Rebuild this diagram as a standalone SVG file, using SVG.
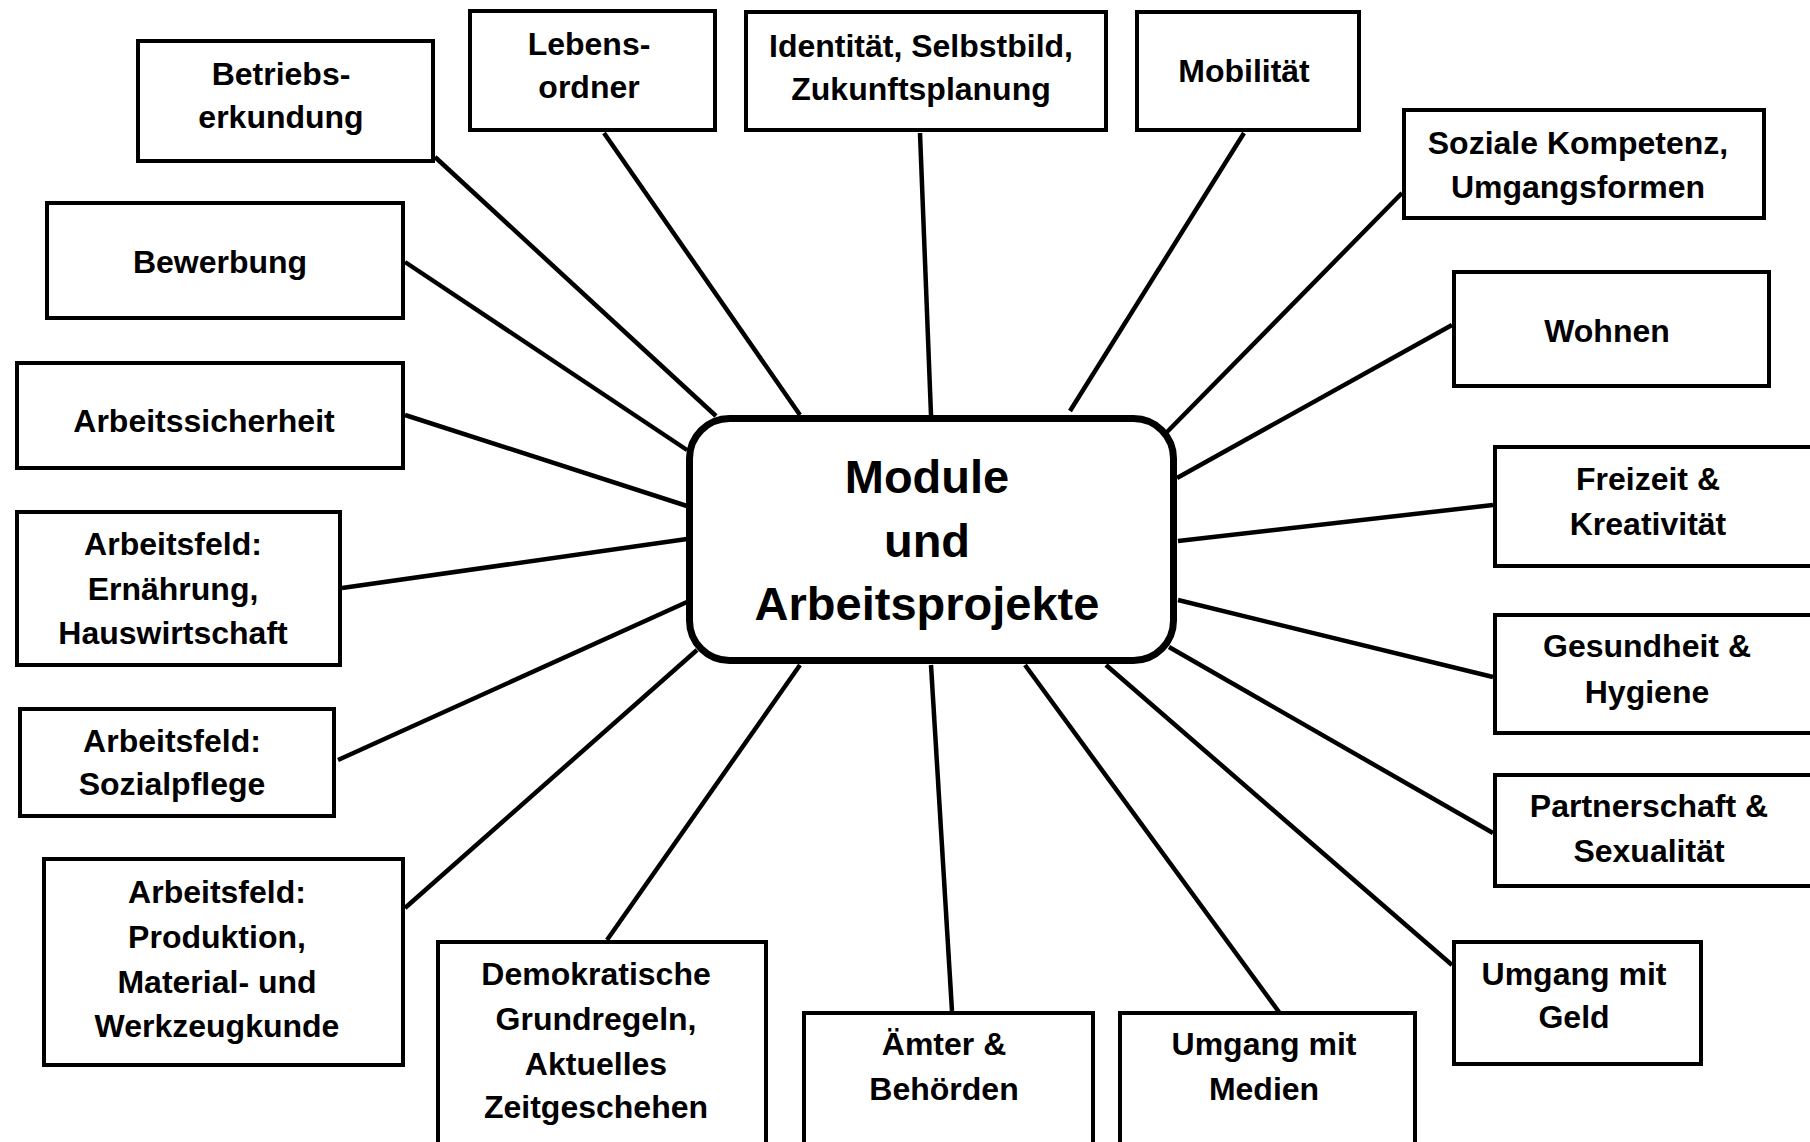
<svg xmlns="http://www.w3.org/2000/svg" width="1810" height="1142" viewBox="0 0 1810 1142">
<style>
.box{fill:#fff;stroke:#000;stroke-width:4}
.center{fill:#fff;stroke:#000;stroke-width:7}
.t{font-family:"Liberation Sans",Arial,sans-serif;font-weight:bold;font-size:32px;fill:#000;text-anchor:middle}
.tc{font-family:"Liberation Sans",Arial,sans-serif;font-weight:bold;font-size:47px;fill:#000;text-anchor:middle}
.c line{stroke:#000;stroke-width:4.5}
</style>
<rect width="1810" height="1142" fill="#fff"/>
<g id="connectors" class="c">
<line x1="435" y1="157" x2="716" y2="416"/>
<line x1="604" y1="133" x2="800" y2="415"/>
<line x1="920" y1="133" x2="931" y2="415"/>
<line x1="1244" y1="133" x2="1070" y2="411"/>
<line x1="1402" y1="193" x2="1167" y2="432"/>
<line x1="1452" y1="325" x2="1177" y2="478"/>
<line x1="1493" y1="505" x2="1178" y2="541"/>
<line x1="1493" y1="677" x2="1178" y2="600"/>
<line x1="1493" y1="833" x2="1169" y2="647"/>
<line x1="1452" y1="965" x2="1106" y2="665"/>
<line x1="1279" y1="1012" x2="1025" y2="665"/>
<line x1="952" y1="1011" x2="931" y2="665"/>
<line x1="607" y1="940" x2="800" y2="665"/>
<line x1="405" y1="908" x2="697" y2="650"/>
<line x1="338" y1="760" x2="687" y2="602"/>
<line x1="342" y1="588" x2="687" y2="539"/>
<line x1="405" y1="415" x2="687" y2="506"/>
<line x1="405" y1="262" x2="687" y2="450"/>
</g>
<g id="center">
<rect class="center" x="689.5" y="418.5" width="484" height="242" rx="40"/>
<text class="tc" x="927" y="493">Module</text>
<text class="tc" x="927" y="557">und</text>
<text class="tc" x="927" y="620">Arbeitsprojekte</text>
</g>
<g id="betriebserkundung">
<rect class="box" x="138" y="41" width="295" height="120"/>
<text class="t" x="281" y="85">Betriebs-</text>
<text class="t" x="281" y="128">erkundung</text>
</g>
<g id="lebensordner">
<rect class="box" x="470" y="11" width="245" height="119"/>
<text class="t" x="589" y="55">Lebens-</text>
<text class="t" x="589" y="98">ordner</text>
</g>
<g id="identitaet">
<rect class="box" x="746" y="12" width="360" height="118"/>
<text class="t" x="921" y="57">Identität, Selbstbild,</text>
<text class="t" x="921" y="100">Zukunftsplanung</text>
</g>
<g id="mobilitaet">
<rect class="box" x="1137" y="12" width="222" height="118"/>
<text class="t" x="1244" y="82">Mobilität</text>
</g>
<g id="soziale-kompetenz">
<rect class="box" x="1404" y="110" width="360" height="108"/>
<text class="t" x="1578" y="154">Soziale Kompetenz,</text>
<text class="t" x="1578" y="198">Umgangsformen</text>
</g>
<g id="wohnen">
<rect class="box" x="1454" y="272" width="315" height="114"/>
<text class="t" x="1607" y="342">Wohnen</text>
</g>
<g id="freizeit">
<rect class="box" x="1495" y="447" width="330" height="119"/>
<text class="t" x="1648" y="490">Freizeit &amp;</text>
<text class="t" x="1648" y="535">Kreativität</text>
</g>
<g id="gesundheit">
<rect class="box" x="1495" y="615" width="330" height="118"/>
<text class="t" x="1647" y="657">Gesundheit &amp;</text>
<text class="t" x="1647" y="703">Hygiene</text>
</g>
<g id="partnerschaft">
<rect class="box" x="1495" y="775" width="330" height="111"/>
<text class="t" x="1649" y="817">Partnerschaft &amp;</text>
<text class="t" x="1649" y="862">Sexualität</text>
</g>
<g id="geld">
<rect class="box" x="1454" y="942" width="247" height="122"/>
<text class="t" x="1574" y="985">Umgang mit</text>
<text class="t" x="1574" y="1028">Geld</text>
</g>
<g id="medien">
<rect class="box" x="1120" y="1013" width="295" height="140"/>
<text class="t" x="1264" y="1055">Umgang mit</text>
<text class="t" x="1264" y="1100">Medien</text>
</g>
<g id="aemter">
<rect class="box" x="804" y="1013" width="289" height="140"/>
<text class="t" x="944" y="1055">Ämter &amp;</text>
<text class="t" x="944" y="1100">Behörden</text>
</g>
<g id="demokratie">
<rect class="box" x="438" y="942" width="328" height="210"/>
<text class="t" x="596" y="985">Demokratische</text>
<text class="t" x="596" y="1030">Grundregeln,</text>
<text class="t" x="596" y="1075">Aktuelles</text>
<text class="t" x="596" y="1118">Zeitgeschehen</text>
</g>
<g id="produktion">
<rect class="box" x="44" y="859" width="359" height="206"/>
<text class="t" x="217" y="903">Arbeitsfeld:</text>
<text class="t" x="217" y="948">Produktion,</text>
<text class="t" x="217" y="993">Material- und</text>
<text class="t" x="217" y="1037">Werkzeugkunde</text>
</g>
<g id="sozialpflege">
<rect class="box" x="20" y="709" width="314" height="107"/>
<text class="t" x="172" y="752">Arbeitsfeld:</text>
<text class="t" x="172" y="795">Sozialpflege</text>
</g>
<g id="ernaehrung">
<rect class="box" x="17" y="512" width="323" height="153"/>
<text class="t" x="173" y="555">Arbeitsfeld:</text>
<text class="t" x="173" y="600">Ernährung,</text>
<text class="t" x="173" y="644">Hauswirtschaft</text>
</g>
<g id="arbeitssicherheit">
<rect class="box" x="17" y="363" width="386" height="105"/>
<text class="t" x="204" y="432">Arbeitssicherheit</text>
</g>
<g id="bewerbung">
<rect class="box" x="47" y="203" width="356" height="115"/>
<text class="t" x="220" y="273">Bewerbung</text>
</g>
</svg>
